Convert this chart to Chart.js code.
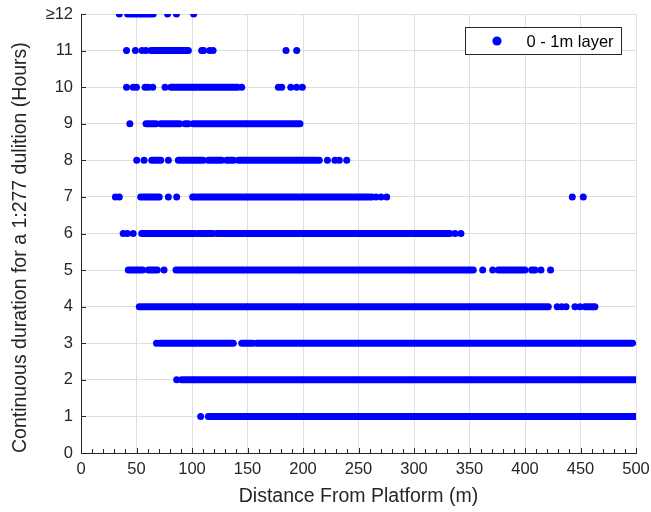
<!DOCTYPE html>
<html>
<head>
<meta charset="utf-8">
<script src="https://cdn.jsdelivr.net/npm/chart.js@4.4.1/dist/chart.umd.min.js"></script>
<style>
  html, body { margin: 0; padding: 0; background: #fff; }
  #wrap { width: 651px; height: 512px; position: relative; }
</style>
</head>
<body>
<div id="wrap"><canvas id="durationChart"></canvas></div>
<script>
// Continuous duration vs distance from platform (0 - 1m layer)

const seriesLabel = '0 - 1m layer';
const xTitle = 'Distance From Platform (m)';
const yTitle = 'Continuous duration for a 1:277 dulition (Hours)';
const yTickLabels = ['0', '1', '2', '3', '4', '5', '6', '7', '8', '9', '10', '11', '\u226512'];

// isolated dots (distance in m) for each hour row
const dots1 = [107.8];
const dots2 = [86.2];
const dots3 = [68];
const dots4 = [429, 433, 437, 445, 449.5];
const dots5 = [74.8, 361.9, 370.9, 414.4, 423];
const dots6 = [38, 41.7, 47, 337, 342.3];
const dots7 = [31, 34.5, 78.7, 86.2, 265.8, 270.3, 275.4, 442.6, 452.5];
const dots8 = [50.2, 56.8, 78.7, 214.7, 222, 228.8, 232.7, 239.4];
const dots9 = [44];
const dots10 = [41, 47, 50, 57.7, 60.6, 64.6, 75.7, 144.8, 177.8, 180.8, 189, 194.3, 199.4];
const dots11 = [41, 49, 55, 58.5, 108.7, 110.5, 116, 119, 184.7, 194.3];
const dots12 = [34.5, 78, 86, 101.5];

// dense runs of overlapping dots [from, to] for each hour row
const runs1 = [[114.7, 500]];
const runs2 = [[90.7, 500]];
const runs3 = [[71, 137.2], [144.8, 154.7], [158.3, 497]];
const runs4 = [[52.5, 421], [454, 463]];
const runs5 = [[42.6, 55.6], [60.6, 68.7], [85.6, 353.4], [376, 400], [406, 409]];
const runs6 = [[54.7, 102.7], [105.7, 119.2], [122.8, 332.4]];
const runs7 = [[53.8, 70.5], [100.6, 262]];
const runs8 = [[63.7, 71.8], [87.7, 110], [114.7, 126.8], [131.2, 137.2], [141.7, 212.3]];
const runs9 = [[58.6, 67.6], [71.8, 89], [93.7, 96.7], [101, 197.3]];
const runs10 = [[81, 141]];
const runs11 = [[63, 96.7]];
const runs12 = [[42, 65]];

const dotRows = [dots1, dots2, dots3, dots4, dots5, dots6, dots7, dots8, dots9, dots10, dots11, dots12];
const runRows = [runs1, runs2, runs3, runs4, runs5, runs6, runs7, runs8, runs9, runs10, runs11, runs12];

const markerColor = '#0000ff';
const markerRadius = 3.5;
const axisColor = '#262626';
const gridColor = '#dfdfdf';
const fontFamily = '"Liberation Sans", Arial, sans-serif';

// Build datasets
const datasets = [];
const dotPoints = [];
dotRows.forEach((row, i) => {
    row.forEach(x => dotPoints.push({ x: x, y: i + 1 }));
});
datasets.push({
    label: seriesLabel,
    data: dotPoints,
    backgroundColor: markerColor,
    borderColor: markerColor,
    pointRadius: markerRadius,
    pointBorderWidth: 0
});
runRows.forEach((row, i) => {
    row.forEach(run => {
        datasets.push({
            label: '',
            data: [{ x: run[0], y: i + 1 }, { x: run[1], y: i + 1 }],
            showLine: true,
            borderColor: markerColor,
            borderWidth: markerRadius * 2,
            borderCapStyle: 'round',
            pointRadius: 0,
            fill: false
        });
    });
});

// Inward ticks (MATLAB style) with x minor ticks
const inwardTicks = {
    id: 'inwardTicks',
    afterDraw(chart) {
        const ctx = chart.ctx;
        const xs = chart.scales.x;
        const ys = chart.scales.y;
        const area = chart.chartArea;
        ctx.save();
        ctx.strokeStyle = axisColor;
        ctx.lineWidth = 1;
        ctx.beginPath();
        for (let v = 0; v <= 500; v += 10) {
            const px = Math.round(xs.getPixelForValue(v)) + 0.5;
            const len = v % 50 === 0 ? 5 : 4;
            ctx.moveTo(px, area.bottom);
            ctx.lineTo(px, area.bottom - len);
        }
        for (let v = 0; v <= 12; v++) {
            const py = Math.round(ys.getPixelForValue(v)) + 0.5;
            ctx.moveTo(area.left, py);
            ctx.lineTo(area.left + 5, py);
        }
        ctx.stroke();
        ctx.restore();
    }
};

// Legend box inside the plot, top right
const boxLegend = {
    id: 'boxLegend',
    afterDraw(chart) {
        const ctx = chart.ctx;
        const area = chart.chartArea;
        const x0 = Math.round(area.right) - 170.5;
        const y0 = Math.round(area.top) + 13.5;
        const w = 156;
        const h = 27;
        ctx.save();
        ctx.fillStyle = '#ffffff';
        ctx.fillRect(x0, y0, w, h);
        ctx.strokeStyle = axisColor;
        ctx.lineWidth = 1;
        ctx.strokeRect(x0, y0, w, h);
        ctx.fillStyle = markerColor;
        ctx.beginPath();
        ctx.arc(x0 + 31.5, y0 + h / 2, 4.6, 0, Math.PI * 2);
        ctx.fill();
        ctx.fillStyle = '#000000';
        ctx.font = '16.5px ' + fontFamily;
        ctx.textBaseline = 'middle';
        ctx.fillText(seriesLabel, x0 + 61, y0 + h / 2 + 1);
        ctx.restore();
    }
};

function initChart() {
    const ctx = document.getElementById('durationChart').getContext('2d');
    new Chart(ctx, {
        type: 'scatter',
        data: { datasets: datasets },
        options: {
            responsive: true,
            maintainAspectRatio: false,
            animation: false,
            layout: { padding: { top: 14, right: 15, left: 0, bottom: 0 } },
            plugins: {
                legend: { display: false },
                tooltip: { enabled: false }
            },
            scales: {
                x: {
                    type: 'linear',
                    min: 0,
                    max: 500,
                    afterFit: scale => {
                        scale.height = 59;
                        scale.paddingLeft = 0;
                        scale.paddingRight = 0;
                    },
                    ticks: {
                        stepSize: 50,
                        color: axisColor,
                        padding: 7,
                        maxRotation: 0,
                        font: { family: fontFamily, size: 16.5 }
                    },
                    grid: { color: gridColor, drawTicks: false },
                    border: { color: axisColor, width: 1 },
                    title: {
                        display: true,
                        text: xTitle,
                        color: axisColor,
                        padding: { top: 2, bottom: 4 },
                        font: { family: fontFamily, size: 19.5 }
                    }
                },
                y: {
                    type: 'linear',
                    min: 0,
                    max: 12,
                    afterFit: scale => {
                        scale.width = 81;
                        scale.paddingTop = 0;
                        scale.paddingBottom = 0;
                    },
                    ticks: {
                        stepSize: 1,
                        color: axisColor,
                        padding: 8,
                        font: { family: fontFamily, size: 16.5 },
                        callback: value => yTickLabels[value]
                    },
                    grid: { color: gridColor, drawTicks: false },
                    border: { color: axisColor, width: 1 },
                    title: {
                        display: true,
                        text: yTitle,
                        align: 'start',
                        color: axisColor,
                        padding: { top: 9, bottom: 4 },
                        font: { family: fontFamily, size: 19.5 }
                    }
                }
            }
        },
        plugins: [inwardTicks, boxLegend]
    });
}

document.addEventListener('DOMContentLoaded', initChart);
</script>
</body>
</html>
